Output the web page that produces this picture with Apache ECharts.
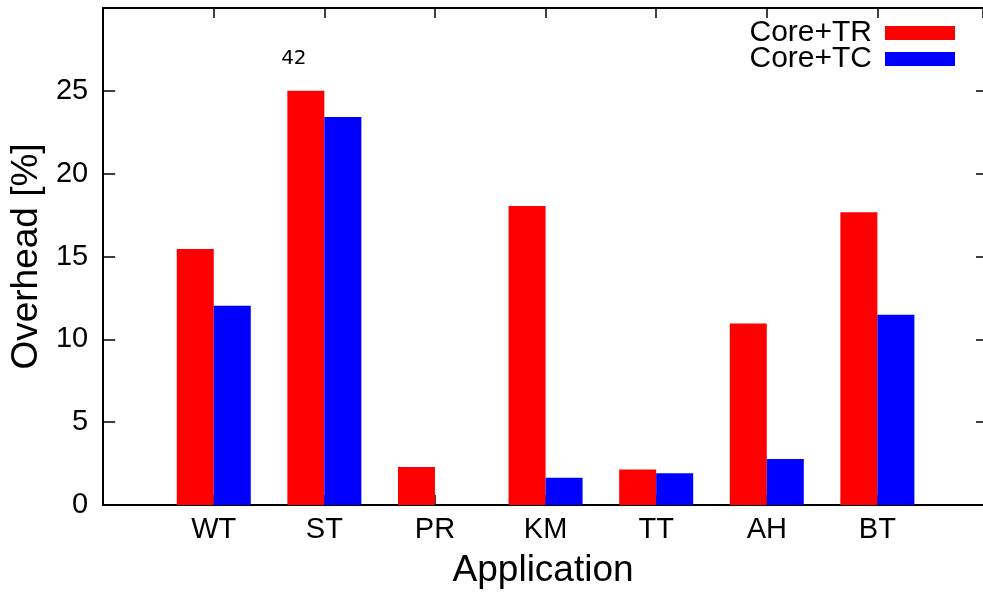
<!DOCTYPE html>
<html>
<head>
<meta charset="utf-8">
<script src="https://cdn.jsdelivr.net/npm/echarts@6/dist/echarts.min.js"></script>
<style>
html,body{margin:0;padding:0;background:#fff;overflow:hidden}
#c{width:983px;height:594px}
</style>
</head>
<body>
<div id="c"></div>
<script>
const categories = ['WT', 'ST', 'PR', 'KM', 'TT', 'AH', 'BT'];
const coreTR = [15.45, 25.0, 2.3, 18.05, 2.15, 10.95, 17.67];
const coreTC = [12.02, 23.42, 0, 1.65, 1.92, 2.77, 11.48];
const yTicks = [0, 5, 10, 15, 20, 25];
const annotations = [{ category: 'ST', text: '42' }];

const FONT = 'Liberation Sans';
const chart = echarts.init(document.getElementById('c'), null, { renderer: 'canvas' });

// the original plot frame runs past the right edge of the picture (x range -1..7)
const GRID_LEFT = 102;
const FULL_RIGHT = 988;
const X_MAX = -1 + 8 * (983 - GRID_LEFT) / (FULL_RIGHT - GRID_LEFT);

function buildData(vals, withAnno) {
  return vals.map((v, i) => {
    const item = { value: [i, v] };
    if (withAnno) {
      const a = annotations.find(x => x.category === categories[i]);
      if (a) {
        item.label = {
          show: true, position: 'top', distance: 0, offset: [-12, -22],
          formatter: a.text, color: '#000', fontFamily: 'DejaVu Sans', fontSize: 20
        };
      }
    }
    return item;
  });
}

const xBase = {
  type: 'value', min: -1, max: X_MAX, interval: 1,
  splitLine: { show: false },
  axisLine: { show: true, onZero: false, lineStyle: { color: '#000', width: 2 } },
  axisTick: { show: true, inside: true, length: 10, lineStyle: { color: '#000', width: 1.5 } }
};
const yBase = {
  type: 'value', min: 0, max: 30, interval: 5,
  splitLine: { show: false },
  axisLine: { show: true, onZero: false, lineStyle: { color: '#000', width: 2 } },
  axisTick: { show: true, inside: true, length: 12, lineStyle: { color: '#000', width: 1.5 } }
};

chart.setOption({
  animation: false,
  backgroundColor: '#fff',
  grid: { left: GRID_LEFT, top: 8, bottom: 87, right: 0, containLabel: false },
  legend: {
    data: ['Core+TR', 'Core+TC'], orient: 'vertical', right: 23, top: 13,
    align: 'right', itemWidth: 70, itemHeight: 14, itemGap: -4, icon: 'rect',
    selectedMode: false,
    textStyle: { fontFamily: FONT, fontSize: 30, color: '#000', padding: [0, 8, 0, 0] }
  },
  xAxis: [
    Object.assign({}, xBase, {
      position: 'bottom',
      name: 'Application', nameLocation: 'middle', nameGap: 47,
      nameTextStyle: { fontFamily: FONT, fontSize: 37, color: '#000' },
      axisLabel: {
        show: true, margin: 10, fontFamily: FONT, fontSize: 29, color: '#000',
        showMinLabel: false, showMaxLabel: false,
        formatter: v => (Number.isInteger(v) && categories[v] !== undefined ? categories[v] : '')
      }
    }),
    Object.assign({}, xBase, { position: 'top', axisLabel: { show: false } })
  ],
  yAxis: [
    Object.assign({}, yBase, {
      position: 'left',
      name: 'Overhead [%]', nameLocation: 'middle', nameGap: 53,
      nameTextStyle: { fontFamily: FONT, fontSize: 37, color: '#000' },
      axisLabel: {
        show: true, margin: 15, fontFamily: FONT, fontSize: 29, color: '#000',
        formatter: v => (yTicks.indexOf(v) >= 0 ? String(v) : '')
      }
    }),
    Object.assign({}, yBase, {
      position: 'right', axisLabel: { show: false },
      axisLine: { show: false, onZero: false },
      axisTick: { show: true, inside: true, length: 7, lineStyle: { color: '#000', width: 1.5 } }
    })
  ],
  series: [
    {
      name: 'Core+TR', type: 'bar', xAxisIndex: 0, yAxisIndex: 0,
      barWidth: 37, barGap: '0%',
      itemStyle: { color: '#ff0000' },
      data: buildData(coreTR, true)
    },
    {
      name: 'Core+TC', type: 'bar', xAxisIndex: 0, yAxisIndex: 0,
      barWidth: 37, barGap: '0%',
      itemStyle: { color: '#0000ff' },
      data: buildData(coreTC, false)
    }
  ]
});
</script>
</body>
</html>
